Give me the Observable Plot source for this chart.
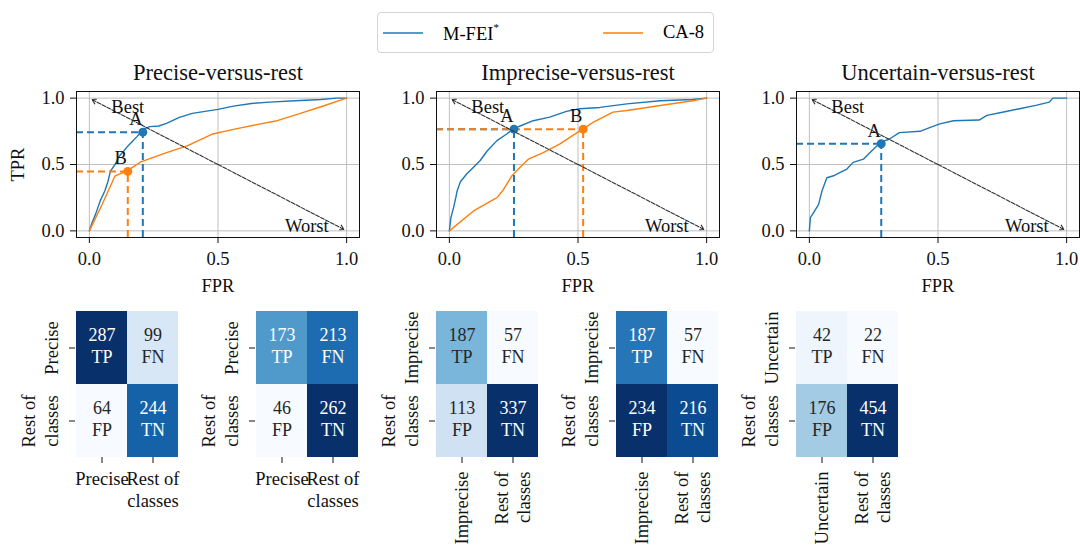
<!DOCTYPE html>
<html><head><meta charset="utf-8">
<script src="https://cdn.jsdelivr.net/npm/d3@7"></script>
<script src="https://cdn.jsdelivr.net/npm/@observablehq/plot@0.6"></script>
<style>
body{margin:0;background:#fff;}
#root{position:relative;width:1080px;height:548px;overflow:hidden;background:#fff;font-family:"Liberation Serif","Times New Roman",serif;color:#000;}
.panel{position:absolute;}
.panel svg{display:block;overflow:visible;}
#legend{position:absolute;left:377px;top:12px;width:337px;height:41px;border:1px solid #d4d4d4;border-radius:4px;box-sizing:border-box;font-size:18.5px;}
#legend .entry{position:absolute;top:0;height:39px;display:flex;align-items:center;}
#legend .entry span{margin-left:20px;}
#legend sup{font-size:11px;vertical-align:9px;}
</style></head><body><div id="root"><div id="legend"></div></div>
<script>
// ---------- data ----------
const classes = ["Precise", "Imprecise", "Uncertain"];
const modelNames = ["M-FEI*", "CA-8"];
const modelColors = ["#1f77b4", "#ff7f0e"];
const tickValues = [0, 0.5, 1];
const REST = "Rest of\nclasses";
const cellTags = ["TP", "FN", "FP", "TN"];
const pointLabels = ["A", "B"];
const extremes = [{label: "Best", fpr: 0, tpr: 1}, {label: "Worst", fpr: 1, tpr: 0}];

// ROC curves [FPR, TPR]
const rocPreciseMFEI = [[0,0],[0.01,0.06],[0.025,0.13],[0.043,0.23],[0.06,0.3],[0.072,0.37],[0.082,0.45],[0.1,0.5],[0.115,0.56],[0.133,0.6],[0.15,0.64],[0.165,0.67],[0.185,0.71],[0.2,0.745],[0.215,0.77],[0.235,0.785],[0.27,0.79],[0.3,0.81],[0.35,0.855],[0.4,0.885],[0.45,0.9],[0.5,0.915],[0.56,0.94],[0.63,0.96],[0.7,0.97],[0.8,0.98],[0.9,0.99],[0.96,1],[1,1]];
const rocPreciseCA8 = [[0,0],[0.05,0.2],[0.1,0.415],[0.145,0.45],[0.2,0.52],[0.3,0.59],[0.38,0.64],[0.48,0.73],[0.56,0.765],[0.65,0.8],[0.73,0.83],[0.82,0.885],[0.9,0.935],[1,1]];
const rocImpreciseMFEI = [[0,0],[0.006,0.1],[0.017,0.18],[0.025,0.25],[0.03,0.3],[0.043,0.37],[0.068,0.43],[0.094,0.48],[0.12,0.53],[0.146,0.6],[0.185,0.68],[0.223,0.73],[0.25,0.77],[0.275,0.79],[0.326,0.83],[0.39,0.857],[0.455,0.9],[0.507,0.92],[0.585,0.93],[0.69,0.957],[0.82,0.98],[0.946,0.99],[1,1]];
const rocImpreciseCA8 = [[0,0],[0.094,0.15],[0.185,0.25],[0.21,0.31],[0.243,0.415],[0.275,0.48],[0.307,0.54],[0.365,0.59],[0.43,0.655],[0.48,0.72],[0.522,0.77],[0.56,0.82],[0.636,0.895],[0.69,0.907],[0.82,0.945],[0.946,0.98],[1,1]];
const rocUncertainMFEI = [[0,0],[0.004,0.1],[0.017,0.14],[0.036,0.2],[0.049,0.3],[0.068,0.4],[0.094,0.415],[0.12,0.44],[0.146,0.466],[0.17,0.516],[0.21,0.54],[0.236,0.59],[0.262,0.64],[0.28,0.67],[0.31,0.69],[0.35,0.74],[0.43,0.75],[0.47,0.78],[0.507,0.806],[0.56,0.83],[0.66,0.835],[0.69,0.87],[0.75,0.894],[0.817,0.92],[0.88,0.945],[0.933,0.97],[0.946,1.0],[1,1]];

// Confusion matrices [TP, FN, FP, TN]
const cmPreciseMFEI = [287, 99, 64, 244];
const cmPreciseCA8 = [173, 213, 46, 262];
const cmImpreciseMFEI = [187, 57, 113, 337];
const cmImpreciseCA8 = [187, 57, 234, 216];
const cmUncertainMFEI = [42, 22, 176, 454];

const panels = [
  {cls: "Precise", curves: [rocPreciseMFEI, rocPreciseCA8], cms: [cmPreciseMFEI, cmPreciseCA8], rotateX: false, yLabel: "TPR"},
  {cls: "Imprecise", curves: [rocImpreciseMFEI, rocImpreciseCA8], cms: [cmImpreciseMFEI, cmImpreciseCA8], rotateX: true, yLabel: null},
  {cls: "Uncertain", curves: [rocUncertainMFEI], cms: [cmUncertainMFEI], rotateX: true, yLabel: null}
];

// ---------- rendering ----------
const FONT = "'Liberation Serif','Times New Roman',serif";
const FS = 18.5;
const root = document.getElementById("root");
function place(node, left, top) {
  const d = document.createElement("div");
  d.className = "panel";
  d.style.left = left + "px"; d.style.top = top + "px";
  d.appendChild(node);
  root.appendChild(d);
}

const xDom = [-0.05, 1.05], yDom = [-0.05, 1.05];

function rocPlot(p) {
  const ops = p.cms.map((cm, k) => ({
    fpr: cm[2] / (cm[2] + cm[3]),
    tpr: cm[0] / (cm[0] + cm[1]),
    label: pointLabels[k],
    color: modelColors[k]
  }));
  const marks = [
    Plot.gridX({ticks: tickValues, stroke: "#b0b0b0", strokeOpacity: 1, strokeWidth: 0.8}),
    Plot.gridY({ticks: tickValues, stroke: "#b0b0b0", strokeOpacity: 1, strokeWidth: 0.8}),
    Plot.axisX({ticks: tickValues, tickFormat: d3.format(".1f"), tickSize: 6, tickPadding: 8, label: null, fontSize: FS}),
    Plot.axisY({ticks: tickValues, tickFormat: d3.format(".1f"), tickSize: 6, tickPadding: 6, label: null, fontSize: FS}),
    ...p.curves.map((c, k) => Plot.line(c, {x: d => d[0], y: d => d[1], stroke: modelColors[k], strokeWidth: 1.4})),
    Plot.ruleX(ops, {x: "fpr", y1: yDom[0], y2: "tpr", stroke: "color", strokeWidth: 2, strokeDasharray: "7,4"}),
    Plot.ruleY(ops, {y: "tpr", x1: xDom[0], x2: "fpr", stroke: "color", strokeWidth: 2, strokeDasharray: "7,4"}),
    Plot.dot(ops, {x: "fpr", y: "tpr", r: 4.5, fill: "color"}),
    Plot.text(ops, {x: "fpr", y: "tpr", text: "label", dx: -7, dy: -13, fontSize: FS, fill: "#111"}),
    Plot.arrow(extremes, {x1: 0.5, y1: 0.5, x2: "fpr", y2: "tpr", stroke: "#333", strokeWidth: 1.1, strokeDasharray: "4,1.5", headLength: 7, insetEnd: 3}),
    Plot.text(extremes.slice(0, 1), {x: "fpr", y: "tpr", text: "label", textAnchor: "start", dx: 22, dy: 9, fontSize: FS, fill: "#111"}),
    Plot.text(extremes.slice(1), {x: "fpr", y: "tpr", text: "label", textAnchor: "end", dx: -18, dy: -5, fontSize: FS, fill: "#111"}),
    Plot.text([p.cls + "-versus-rest"], {frameAnchor: "top", lineAnchor: "middle", textAnchor: "middle", dy: -19, fontSize: 22.5, fill: "#111"}),
    Plot.text(["FPR"], {frameAnchor: "bottom", lineAnchor: "middle", textAnchor: "middle", dy: 49, fontSize: FS, fill: "#111"}),
    Plot.frame({stroke: "#111", strokeWidth: 1})
  ];
  if (p.yLabel) marks.push(Plot.text([p.yLabel], {frameAnchor: "left", textAnchor: "middle", lineAnchor: "middle", dx: -58, rotate: -90, fontSize: FS, fill: "#111"}));
  return Plot.plot({
    width: 360, height: 250, marginLeft: 76, marginRight: 1, marginTop: 41, marginBottom: 63,
    x: {domain: xDom}, y: {domain: yDom},
    color: {type: "identity"},
    style: {fontFamily: FONT, fontSize: FS + "px", color: "#111", background: "transparent", overflow: "visible"},
    marks
  });
}

function cmPlot(cls, cm, rotateX) {
  const keys = [cls, REST];
  const cells = cm.map((v, i) => ({actual: keys[Math.floor(i / 2)], pred: keys[i % 2], value: v, tag: cellTags[i]}));
  const lo = d3.min(cm), hi = d3.max(cm);
  const norm = v => (v - lo) / (hi - lo);
  const cellText = d => d.value + "\n" + d.tag;
  const xText = rotateX
    ? Plot.text(keys, {x: d => d, text: d => d, frameAnchor: "bottom", rotate: -90, textAnchor: "end", lineAnchor: "middle", lineHeight: 1.2, dy: 14, dx: -1, fontSize: FS, fill: "#111"})
    : Plot.text(keys, {x: d => d, text: d => d, frameAnchor: "bottom", textAnchor: "middle", lineAnchor: "top", lineHeight: 1.2, dy: 12, fontSize: FS, fill: "#111"});
  return Plot.plot({
    width: 180, height: 248, marginLeft: 75, marginRight: 2, marginTop: 11, marginBottom: 91,
    x: {domain: keys, padding: 0}, y: {domain: keys, padding: 0},
    color: {type: "linear", scheme: "blues", domain: [lo, hi]},
    style: {fontFamily: FONT, fontSize: FS + "px", color: "#111", background: "transparent", overflow: "visible"},
    marks: [
      Plot.cell(cells, {x: "pred", y: "actual", fill: "value", inset: 0}),
      Plot.text(cells, {filter: d => norm(d.value) <= 0.5, x: "pred", y: "actual", text: cellText, lineHeight: 1.25, dy: -3, fontSize: 18, fill: "#262626"}),
      Plot.text(cells, {filter: d => norm(d.value) > 0.5, x: "pred", y: "actual", text: cellText, lineHeight: 1.25, dy: -3, fontSize: 18, fill: "#ffffff"}),
      Plot.axisX({tickSize: 6, tickFormat: () => "", label: null}),
      Plot.axisY({tickSize: 6, tickFormat: () => "", label: null}),
      xText,
      Plot.text(keys, {y: d => d, text: d => d, frameAnchor: "left", rotate: -90, textAnchor: "middle", lineAnchor: "bottom", lineHeight: 1.2, dx: -18, fontSize: FS, fill: "#111"})
    ]
  });
}

panels.forEach((p, i) => place(rocPlot(p), 360 * i, 50));
let j = 0;
panels.forEach(p => p.cms.forEach(cm => { place(cmPlot(p.cls, cm, p.rotateX), 180 * j, 300); j++; }));

// legend
const legend = document.getElementById("legend");
modelNames.forEach((name, k) => {
  const e = document.createElement("div");
  e.className = "entry";
  e.style.left = (5 + 220 * k) + "px";
  const star = name.endsWith("*");
  const base = star ? name.slice(0, -1) : name;
  e.innerHTML = `<svg width="40" height="4"><line x1="0" x2="40" y1="2" y2="2" stroke="${modelColors[k]}" stroke-width="1.6"/></svg><span>${base}${star ? "<sup>*</sup>" : ""}</span>`;
  legend.appendChild(e);
});
</script></body></html>
